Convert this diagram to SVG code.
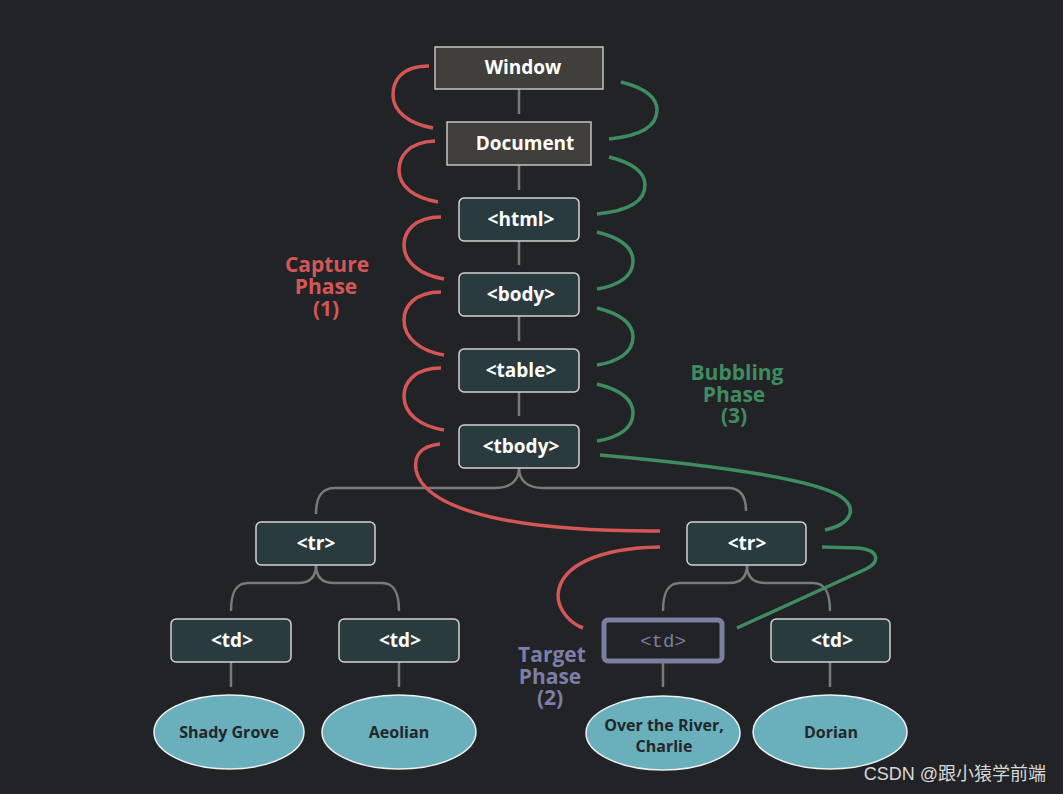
<svg xmlns="http://www.w3.org/2000/svg" width="1063" height="794" viewBox="0 0 1063 794">
<style>
.bg{fill:#222326}
.win{fill:#403f3c;stroke:#c4c4c4;stroke-width:1.5}
.el{fill:#2a3b40;stroke:#d2d2d2;stroke-width:1.5}
.tgt{fill:#222326;stroke:#7b7fa0;stroke-width:5}
.leaf{fill:#6aafbc;stroke:#f0f0f0;stroke-width:1.5}
.t{font-family:"Open Sans","DejaVu Sans",sans-serif;font-weight:bold;font-size:19px;fill:#ffffff;text-anchor:middle}
.lt{font-family:"Open Sans","DejaVu Sans",sans-serif;font-weight:bold;font-size:16px;fill:#23262a;text-anchor:middle}
.tt{font-family:"Liberation Mono",monospace;font-size:19px;fill:#7b7fa0;text-anchor:middle}
.lbl{font-family:"Open Sans","DejaVu Sans",sans-serif;font-weight:bold;font-size:21px;text-anchor:middle}
.tree{fill:none;stroke:#7a7a7a;stroke-width:2.5}
.cap{fill:none;stroke:#d45656;stroke-width:3.5}
.bub{fill:none;stroke:#3f8c60;stroke-width:3.5}
</style>
<rect class="bg" x="0" y="0" width="1063" height="794"/>
<g id="connectors">
<path class="tree" d="M519 89 V114 M519 165 V190 M519 241 V265 M519 316 V341 M519 392 V416"/>
<path class="tree" d="M519 468 C519 481 510 488 495 488 L335 488 C322 488 316 496 316 514"/>
<path class="tree" d="M519 468 C519 481 528 488 543 488 L728 488 C740 488 746 496 746 511"/>
<path class="tree" d="M316 565 C316 577 310 583 298 583 L248 583 C236 583 231 592 231 611"/>
<path class="tree" d="M316 565 C316 577 322 583 334 583 L382 583 C394 583 399 592 399 611"/>
<path class="tree" d="M747 565 C747 577 741 583 729 583 L680 583 C668 583 663 592 663 611"/>
<path class="tree" d="M747 565 C747 577 753 583 765 583 L813 583 C825 583 830 592 830 611"/>
<path class="tree" d="M231 662 V687 M399 662 V687 M663 662 V687 M830 662 V687"/>
<g id="capture">
<path class="cap" d="M429 66 C400 66 393 82 393 95 C393 112 410 124 433 128"/>
<path class="cap" d="M435 141 C407 142 399 158 399 170 C399 187 415 198 438 202"/>
<path class="cap" d="M441 217 C414 217 404 232 404 245 C404 262 420 275 444 279"/>
<path class="cap" d="M441 292 C414 292 404 307 404 320 C404 338 420 351 444 355"/>
<path class="cap" d="M441 368 C414 368 404 383 404 396 C404 414 420 426 444 430"/>
<path class="cap" d="M440 444 C420 446 414 456 416 470 C422 500 480 532 660 531"/>
<path class="cap" d="M660 547 C600 548 560 565 558 595 C558 610 570 623 583 628"/>
</g>
<g id="bubble">
<path class="bub" d="M621 82 C645 88 657 98 657 110 C657 126 640 136 609 139"/>
<path class="bub" d="M609 157 C633 163 645 173 645 185 C645 201 628 211 597 214"/>
<path class="bub" d="M597 232 C621 238 633 248 633 261 C633 277 617 286 597 289"/>
<path class="bub" d="M597 308 C621 314 633 324 633 337 C633 353 617 362 597 365"/>
<path class="bub" d="M597 384 C621 390 633 400 633 413 C633 429 617 438 597 441"/>
<path class="bub" d="M600 455 C700 464 810 478 840 496 C858 508 852 524 825 530"/>
<path class="bub" d="M822 547 L858 548 C880 550 880 562 866 569 L737 628"/>
</g>
</g>
<g id="window"><rect class="win" x="435" y="47" width="168" height="42"/><text class="t" x="523" y="74">Window</text></g>
<g id="document"><rect class="win" x="447" y="122" width="144" height="43"/><text class="t" x="525" y="150">Document</text></g>
<g id="html"><rect class="el" x="459" y="198" width="120" height="43" rx="5"/><text class="t" x="521" y="226">&lt;html&gt;</text></g>
<g id="body"><rect class="el" x="459" y="273" width="120" height="43" rx="5"/><text class="t" x="521" y="301">&lt;body&gt;</text></g>
<g id="table"><rect class="el" x="459" y="349" width="120" height="43" rx="5"/><text class="t" x="521" y="377">&lt;table&gt;</text></g>
<g id="tbody"><rect class="el" x="459" y="425" width="120" height="43" rx="5"/><text class="t" x="521" y="453">&lt;tbody&gt;</text></g>
<g id="tr1"><rect class="el" x="256" y="522" width="119" height="43" rx="5"/><text class="t" x="316" y="550">&lt;tr&gt;</text></g>
<g id="tr2"><rect class="el" x="687" y="522" width="119" height="43" rx="5"/><text class="t" x="747" y="550">&lt;tr&gt;</text></g>
<g id="td1"><rect class="el" x="171" y="619" width="120" height="43" rx="5"/><text class="t" x="232" y="647">&lt;td&gt;</text></g>
<g id="td2"><rect class="el" x="339" y="619" width="120" height="43" rx="5"/><text class="t" x="400" y="647">&lt;td&gt;</text></g>
<g id="td3"><rect class="tgt" x="604" y="620" width="118" height="41" rx="4"/><text class="tt" x="663" y="647">&lt;td&gt;</text></g>
<g id="td4"><rect class="el" x="771" y="619" width="119" height="43" rx="5"/><text class="t" x="832" y="647">&lt;td&gt;</text></g>
<g id="leaf1"><ellipse class="leaf" cx="229" cy="732" rx="75" ry="37"/><text class="lt" x="229" y="738">Shady Grove</text></g>
<g id="leaf2"><ellipse class="leaf" cx="399" cy="732" rx="77" ry="37"/><text class="lt" x="399" y="738">Aeolian</text></g>
<g id="leaf3"><ellipse class="leaf" cx="663" cy="733" rx="77" ry="37"/><text class="lt" x="664" y="731"><tspan x="664">Over the River,</tspan><tspan x="664" dy="21">Charlie</tspan></text></g>
<g id="leaf4"><ellipse class="leaf" cx="830" cy="732" rx="77" ry="37"/><text class="lt" x="831" y="738">Dorian</text></g>
<g id="labels">
<text class="lbl" fill="#d45656" x="327" y="272"><tspan x="327">Capture</tspan><tspan x="326" dy="22">Phase</tspan><tspan x="326" dy="22">(1)</tspan></text>
<text class="lbl" fill="#3f8c60" x="737" y="380"><tspan x="737">Bubbling</tspan><tspan x="734" dy="22">Phase</tspan><tspan x="734" dy="21">(3)</tspan></text>
<text class="lbl" fill="#7b7fa8" x="552" y="662"><tspan x="552">Target</tspan><tspan x="550" dy="22">Phase</tspan><tspan x="550" dy="21">(2)</tspan></text>
</g>
<text x="1046" y="780" font-family="'Liberation Sans','Noto Sans CJK SC',sans-serif" font-size="18" fill="#d8d8d8" text-anchor="end">CSDN @跟小猿学前端</text>
</svg>
